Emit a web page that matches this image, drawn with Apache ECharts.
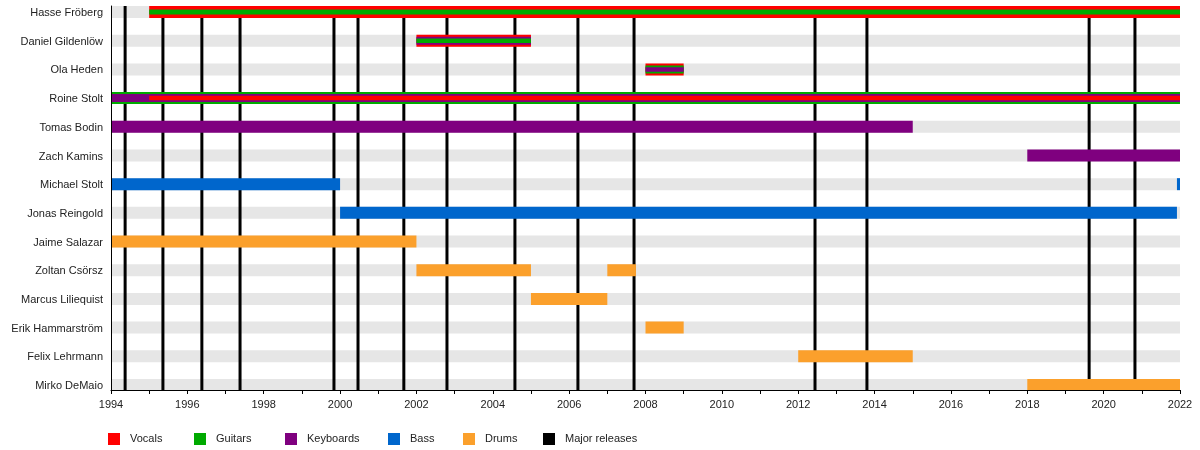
<!DOCTYPE html>
<html>
<head>
<meta charset="utf-8">
<script src="https://cdn.jsdelivr.net/npm/echarts@6/dist/echarts.min.js"></script>
<style>
  html, body { margin: 0; padding: 0; background: #fff; }
  #chart { width: 1200px; height: 450px; }
</style>
</head>
<body>
<div id="chart"></div>
<script>
// band members, top to bottom
const members = [
  'Hasse Fröberg', 'Daniel Gildenlöw', 'Ola Heden', 'Roine Stolt',
  'Tomas Bodin', 'Zach Kamins', 'Michael Stolt', 'Jonas Reingold',
  'Jaime Salazar', 'Zoltan Csörsz', 'Marcus Liliequist', 'Erik Hammarström',
  'Felix Lehrmann', 'Mirko DeMaio'
];

// [member, from, to]
const vocals = [
  ['Hasse Fröberg', 1995, 2022],
  ['Daniel Gildenlöw', 2002, 2005],
  ['Ola Heden', 2008, 2009],
  ['Roine Stolt', 1995, 2022]
];
const guitars = [
  ['Hasse Fröberg', 1995, 2022],
  ['Daniel Gildenlöw', 2002, 2005],
  ['Ola Heden', 2008, 2009],
  ['Roine Stolt', 1994, 2022]
];
const keyboards = [
  ['Daniel Gildenlöw', 2002, 2005],
  ['Ola Heden', 2008, 2009],
  ['Roine Stolt', 1994, 2022],
  ['Tomas Bodin', 1994, 2015],
  ['Zach Kamins', 2018, 2022]
];
const bass = [
  ['Michael Stolt', 1994, 2000],
  ['Jonas Reingold', 2000, 2021.92],
  ['Michael Stolt', 2021.92, 2022]
];
const drums = [
  ['Jaime Salazar', 1994, 2002],
  ['Zoltan Csörsz', 2002, 2005],
  ['Marcus Liliequist', 2005, 2007],
  ['Zoltan Csörsz', 2007, 2007.75],
  ['Erik Hammarström', 2008, 2009],
  ['Felix Lehrmann', 2012, 2015],
  ['Mirko DeMaio', 2018, 2022]
];
// major releases (decimal year)
const releases = [
  1994.37, 1995.36, 1996.38, 1997.38, 1999.84, 2000.47, 2001.67, 2002.80,
  2004.58, 2006.23, 2007.70, 2012.44, 2013.80, 2019.62, 2020.82
];

const yearMin = 1994;
const yearMax = 2022;

// stacking of roles in one bar, outer -> inner
const layerOrder = {
  'Hasse Fröberg': ['Vocals', 'Guitars'],
  'Daniel Gildenlöw': ['Vocals', 'Keyboards', 'Guitars'],
  'Ola Heden': ['Vocals', 'Guitars', 'Keyboards'],
  'Roine Stolt': ['Guitars', 'Keyboards', 'Vocals']
};
const layerSizes = { 1: [12], 2: [12, 5], 3: [12, 8, 4.5] };

const colors = {
  Vocals: '#ff0000',
  Guitars: '#00aa00',
  Keyboards: '#7f007f',
  Bass: '#0066cc',
  Drums: '#fba02c',
  'Major releases': '#000000'
};
const FONT = 'Liberation Sans, Arial, sans-serif';
const Y_MIN = -0.21;
const Y_MAX = 13.175;

const chart = echarts.init(document.getElementById('chart'));

const toData = (list) => list.map(d => [d[1], d[2], members.indexOf(d[0])]);

const renderRole = (params, api) => {
  const row = api.value(2);
  const order = layerOrder[members[row]] || [params.seriesName];
  const idx = Math.max(0, order.indexOf(params.seriesName));
  const h = layerSizes[order.length][idx];
  const s = api.coord([api.value(0), row]);
  const e = api.coord([api.value(1), row]);
  return {
    type: 'rect',
    z2: 10 + idx,
    shape: { x: s[0], y: s[1] - h / 2, width: e[0] - s[0], height: h },
    style: { fill: api.visual('color') }
  };
};

const roleSeries = (name, list) => ({
  name: name,
  type: 'custom',
  renderItem: renderRole,
  itemStyle: { color: colors[name] },
  encode: { x: [0, 1], y: 2 },
  data: toData(list),
  silent: true
});

const option = {
  animation: false,
  backgroundColor: '#ffffff',
  grid: { left: 111, right: 20, top: 6, bottom: 60 },
  xAxis: {
    type: 'value',
    min: yearMin,
    max: yearMax,
    interval: 2,
    z: 10,
    axisLine: { onZero: false, lineStyle: { color: '#000', width: 1 } },
    axisTick: { length: 4, lineStyle: { color: '#000' } },
    minorTick: { show: true, splitNumber: 2, length: 4, lineStyle: { color: '#000' } },
    splitLine: { show: false },
    axisLabel: {
      color: '#222', fontSize: 11, fontFamily: FONT, margin: 9,
      formatter: (v) => String(v)
    }
  },
  yAxis: {
    type: 'value',
    inverse: true,
    min: Y_MIN,
    max: Y_MAX,
    z: 10,
    axisLine: { show: true, onZero: false, lineStyle: { color: '#000', width: 1 } },
    axisTick: { show: false },
    axisLabel: { show: false },
    splitLine: { show: false }
  },
  legend: ['Vocals', 'Guitars', 'Keyboards', 'Bass', 'Drums', 'Major releases'].map((name, i) => ({
    data: [name],
    left: [108, 194, 285, 388, 463, 543][i],
    top: 433,
    padding: 0,
    icon: 'rect',
    itemWidth: 12,
    itemHeight: 12,
    selectedMode: false,
    textStyle: { color: '#222', fontSize: 11, fontFamily: FONT, padding: [0, 0, 0, 5] }
  })),
  series: [
    {
      // grey background rows + member names
      name: 'rows',
      type: 'custom',
      silent: true,
      encode: { x: [0, 1], y: 2 },
      data: members.map((m, i) => [yearMin, yearMax, i]),
      renderItem: (params, api) => {
        const row = api.value(2);
        const s = api.coord([api.value(0), row]);
        const e = api.coord([api.value(1), row]);
        return {
          type: 'group',
          children: [
            {
              type: 'rect',
              z2: 0,
              shape: { x: s[0], y: s[1] - 6, width: e[0] - s[0], height: 12 },
              style: { fill: '#e6e6e6' }
            },
            {
              type: 'text',
              z2: 0,
              style: {
                x: params.coordSys.x - 8,
                y: s[1] + 1,
                text: members[row],
                align: 'right',
                verticalAlign: 'middle',
                fill: '#222',
                font: '11px ' + FONT
              }
            }
          ]
        };
      }
    },
    {
      name: 'Major releases',
      type: 'custom',
      silent: true,
      itemStyle: { color: colors['Major releases'] },
      encode: { x: 0 },
      data: releases.map(v => [v]),
      renderItem: (params, api) => {
        const top = api.coord([api.value(0), Y_MIN]);
        const bottom = api.coord([api.value(0), Y_MAX]);
        return {
          type: 'line',
          z2: 5,
          shape: { x1: top[0], y1: top[1], x2: bottom[0], y2: bottom[1] },
          style: { stroke: api.visual('color'), lineWidth: 3 }
        };
      }
    },
    roleSeries('Vocals', vocals),
    roleSeries('Guitars', guitars),
    roleSeries('Keyboards', keyboards),
    roleSeries('Bass', bass),
    roleSeries('Drums', drums)
  ]
};

chart.setOption(option);
</script>
</body>
</html>
